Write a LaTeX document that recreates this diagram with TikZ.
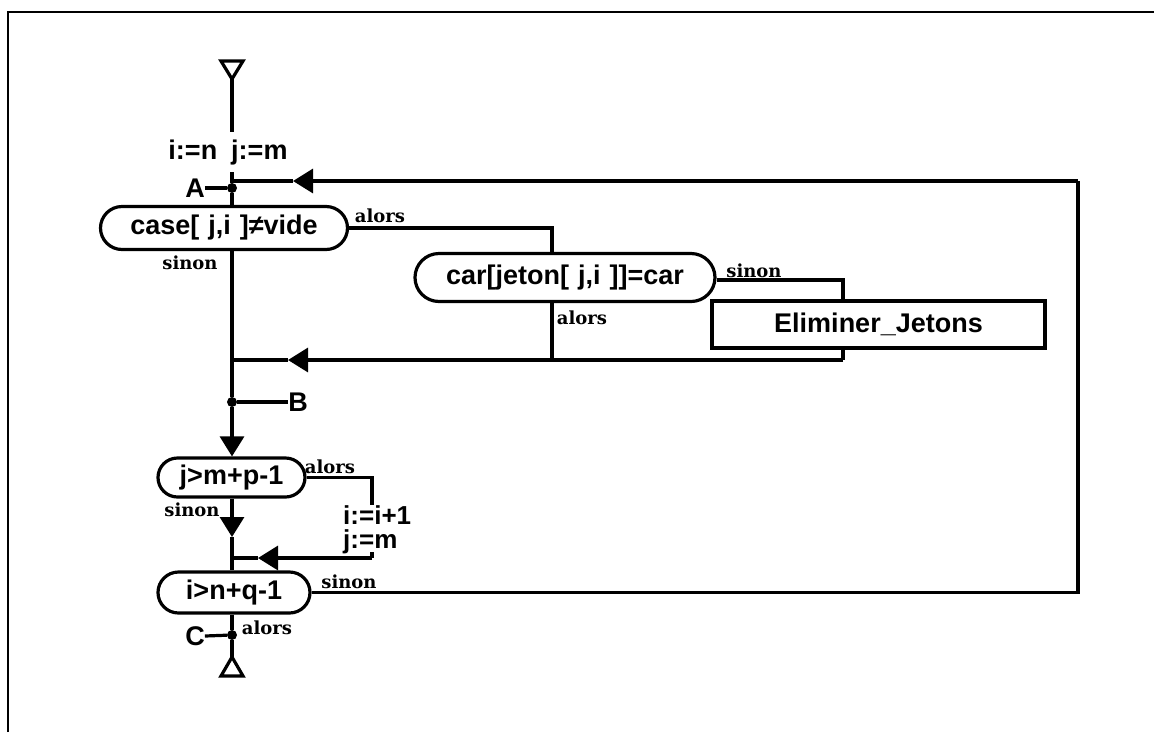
\documentclass[tikz,border=0pt]{standalone}
\usepackage{fontspec}
\setmainfont{Liberation Sans}
\newfontfamily\lblfont{DejaVu Serif}
\usetikzlibrary{arrows.meta}
\begin{document}
\begin{tikzpicture}[x=1pt,y=-1pt,
  ln/.style={line width=3.2pt},
  arr/.style={ln,-{Triangle[length=20pt,width=24pt]}},
  dec/.style={draw,ln,rectangle,rounded corners=#1,inner sep=0pt,
    font=\bfseries\fontsize{27}{30}\selectfont},
  procbox/.style={draw,ln,rectangle,inner sep=0pt,
    font=\bfseries\fontsize{27}{30}\selectfont},
  txt/.style={inner sep=0pt,font=\bfseries\fontsize{27}{30}\selectfont},
  lbl/.style={inner sep=0pt,font=\lblfont\bfseries\fontsize{18}{20}\selectfont},
  dot/.style={circle,fill,inner sep=0pt,minimum size=10pt}
]
\useasboundingbox (0,0) rectangle (1154,732);
\fill[white] (0,0) rectangle (1154,732);
% frame
\draw[line width=1.8pt] (8,732) -- (8,12) -- (1154,12);

% start symbol
\coordinate (st) at (232,79);
\draw[ln,line join=miter] (221,61) -- (243,61) -- (st) -- cycle;
\node[txt] (init) at (228,153) {i:=n\hspace{14pt}j:=m};
\coordinate (g1) at (232,132);
\coordinate (g2) at (232,172);
\draw[ln] (st) -- (g1);

% A
\node[dot] (A) at (232,188) {};
\node[txt] (Alab) at (195,188) {A};
\draw[ln] (Alab.east) -- (A);

% decision 1
\node[dec=21.5pt,minimum width=247pt,minimum height=43pt] (dec1) at (224,228) {case[\,\,j,i\,\,]≠vide};
\draw[ln] (g2) -- (A) -- (dec1.north -| A);
\node[lbl] (l1) at (380,216) {alors};
\node[lbl] (l2) at (190,263) {sinon};

% decision 2
\node[dec=24pt,minimum width=300pt,minimum height=48pt] (dec2) at (565,277.5) {car[jeton[\,\,j,i\,\,]]=car};
\coordinate (c1) at (552,228);
\draw[ln] (dec1.east) -- (c1) -- (dec2.north -| c1);
\node[lbl] (l3) at (754,271) {sinon};
\node[lbl] (l4) at (582,318) {alors};

% process box
\node[procbox,minimum width=333pt,minimum height=47pt] (box) at (878.5,324.5) {Eliminer\_Jetons};
\coordinate (c2) at (843,280);
\draw[ln] (dec2.east |- c2) -- (c2) -- (box.north -| c2);
\coordinate (c3) at (843,360);
\coordinate (c4) at (552,360);
\coordinate (t2) at (288,360);
\coordinate (j2) at (232,360);
\draw[ln] (box.south -| c2) -- (c3);
\draw[arr] (c3) -- (t2);
\draw[ln] (t2) -- (j2);
\draw[ln] (dec2.south -| c1) -- (c4);

% B
\node[dot] (B) at (232,402) {};
\node[txt] (Blab) at (298,402) {B};
\draw[ln] (B) -- (Blab.west);

% decision 3
\node[dec=19.5pt,minimum width=147pt,minimum height=39pt] (dec3) at (231.5,477.5) {j>m+p-1};
\draw[ln] (dec1.south -| A) -- (B);
\draw[arr] (B) -- (dec3.north -| A);
\node[lbl] (l5) at (330,467) {alors};
\node[lbl] (l6) at (192,510) {sinon};
\coordinate (d1) at (372,477.5);
\coordinate (d2) at (372,505);
\coordinate (d3) at (372,552);
\coordinate (d4) at (372,558);
\coordinate (t3) at (258,558);
\coordinate (j3) at (232,558);
\node[txt,anchor=west,font=\bfseries\fontsize{26}{30}\selectfont] (inc1) at (343,515) {i:=i+1};
\node[txt,anchor=west,font=\bfseries\fontsize{26}{30}\selectfont] (inc2) at (343,542) {j:=m};
\draw[ln] (dec3.east) -- (d1) -- (d2);
\draw[ln] (d3) -- (d4);
\draw[arr] (d4) -- (t3);
\draw[ln] (t3) -- (j3);
\coordinate (t4) at (232,537);
\draw[arr] (dec3.south -| A) -- (t4);

% decision 4
\node[dec=20.5pt,minimum width=152pt,minimum height=41pt] (dec4) at (234,592.5) {i>n+q-1};
\draw[ln] (t4) -- (dec4.north -| A);
\node[lbl] (l7) at (349,582) {sinon};
\coordinate (r1) at (1078,592.5);
\coordinate (r2) at (1078,181);
\coordinate (t1) at (293,181);
\coordinate (j1) at (232,181);
\draw[ln] (dec4.east) -- (r1) -- (r2);
\draw[arr] (r2) -- (t1);
\draw[ln] (t1) -- (j1);

% C and end
\node[dot] (C) at (232,635) {};
\node[txt] (Clab) at (195,636) {C};
\draw[ln] (Clab.east) -- (C);
\node[lbl] (l8) at (267,628) {alors};
\coordinate (en) at (232,657);
\draw[ln] (dec4.south -| A) -- (C) -- (en);
\draw[ln,line join=miter] (en) -- (243,676) -- (221,676) -- cycle;
\end{tikzpicture}
\end{document}
